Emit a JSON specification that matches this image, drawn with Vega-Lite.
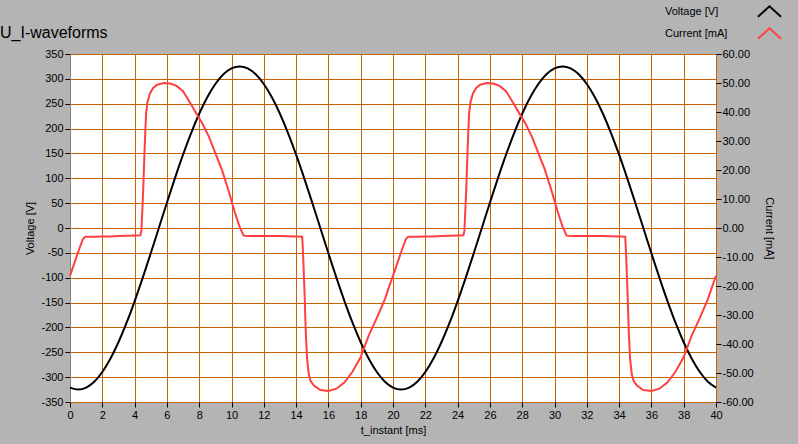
{
  "$schema": "https://vega.github.io/schema/vega-lite/v6.json",
  "width": 646,
  "height": 348,
  "autosize": "none",
  "padding": {"left": 70, "top": 54, "right": 82, "bottom": 42},
  "background": "#b4b4b4",
  "title": {
    "text": "U_I-waveforms",
    "anchor": "start",
    "frame": "group",
    "dx": -70,
    "dy": 65,
    "offset": 10,
    "baseline": "alphabetic",
    "fontSize": 16,
    "fontWeight": "normal",
    "font": "Liberation Sans",
    "color": "#000000"
  },
  "datasets": {
    "voltage": [
      {"t": 0, "v": -321.0}, {"t": 0.5, "v": -325}, {"t": 1, "v": -321.0}, {"t": 1.5, "v": -309.1},
      {"t": 2, "v": -289.6}, {"t": 2.5, "v": -262.9}, {"t": 3, "v": -229.8}, {"t": 3.5, "v": -191.0},
      {"t": 4, "v": -147.5}, {"t": 4.5, "v": -100.4}, {"t": 5, "v": -50.8}, {"t": 5.5, "v": 0},
      {"t": 6, "v": 50.8}, {"t": 6.5, "v": 100.4}, {"t": 7, "v": 147.5}, {"t": 7.5, "v": 191.0},
      {"t": 8, "v": 229.8}, {"t": 8.5, "v": 262.9}, {"t": 9, "v": 289.6}, {"t": 9.5, "v": 309.1},
      {"t": 10, "v": 321.0}, {"t": 10.5, "v": 325}, {"t": 11, "v": 321.0}, {"t": 11.5, "v": 309.1},
      {"t": 12, "v": 289.6}, {"t": 12.5, "v": 262.9}, {"t": 13, "v": 229.8}, {"t": 13.5, "v": 191.0},
      {"t": 14, "v": 147.5}, {"t": 14.5, "v": 100.4}, {"t": 15, "v": 50.8}, {"t": 15.5, "v": 0},
      {"t": 16, "v": -50.8}, {"t": 16.5, "v": -100.4}, {"t": 17, "v": -147.5}, {"t": 17.5, "v": -191.0},
      {"t": 18, "v": -229.8}, {"t": 18.5, "v": -262.9}, {"t": 19, "v": -289.6}, {"t": 19.5, "v": -309.1},
      {"t": 20, "v": -321.0}, {"t": 20.5, "v": -325}, {"t": 21, "v": -321.0}, {"t": 21.5, "v": -309.1},
      {"t": 22, "v": -289.6}, {"t": 22.5, "v": -262.9}, {"t": 23, "v": -229.8}, {"t": 23.5, "v": -191.0},
      {"t": 24, "v": -147.5}, {"t": 24.5, "v": -100.4}, {"t": 25, "v": -50.8}, {"t": 25.5, "v": 0},
      {"t": 26, "v": 50.8}, {"t": 26.5, "v": 100.4}, {"t": 27, "v": 147.5}, {"t": 27.5, "v": 191.0},
      {"t": 28, "v": 229.8}, {"t": 28.5, "v": 262.9}, {"t": 29, "v": 289.6}, {"t": 29.5, "v": 309.1},
      {"t": 30, "v": 321.0}, {"t": 30.5, "v": 325}, {"t": 31, "v": 321.0}, {"t": 31.5, "v": 309.1},
      {"t": 32, "v": 289.6}, {"t": 32.5, "v": 262.9}, {"t": 33, "v": 229.8}, {"t": 33.5, "v": 191.0},
      {"t": 34, "v": 147.5}, {"t": 34.5, "v": 100.4}, {"t": 35, "v": 50.8}, {"t": 35.5, "v": 0},
      {"t": 36, "v": -50.8}, {"t": 36.5, "v": -100.4}, {"t": 37, "v": -147.5}, {"t": 37.5, "v": -191.0},
      {"t": 38, "v": -229.8}, {"t": 38.5, "v": -262.9}, {"t": 39, "v": -289.6}, {"t": 39.5, "v": -309.1},
      {"t": 40, "v": -321.0}
    ],
    "current": [
      {"t": 0, "i": -16.5}, {"t": 0.3, "i": -11.6}, {"t": 0.6, "i": -6.8}, {"t": 0.8, "i": -3.8},
      {"t": 0.95, "i": -3.0}, {"t": 1.5, "i": -3.0}, {"t": 2.0, "i": -2.9}, {"t": 2.5, "i": -2.9},
      {"t": 3.0, "i": -2.8}, {"t": 3.5, "i": -2.7}, {"t": 4.0, "i": -2.6}, {"t": 4.36, "i": -2.5},
      {"t": 4.42, "i": -1.0}, {"t": 4.47, "i": 5}, {"t": 4.54, "i": 14}, {"t": 4.6, "i": 24},
      {"t": 4.66, "i": 33}, {"t": 4.72, "i": 40}, {"t": 4.8, "i": 43.5}, {"t": 4.95, "i": 46.4},
      {"t": 5.15, "i": 48.3}, {"t": 5.4, "i": 49.4}, {"t": 5.8, "i": 50.0}, {"t": 6.2, "i": 49.8},
      {"t": 6.6, "i": 49.0}, {"t": 7.0, "i": 47.2}, {"t": 7.4, "i": 43.5}, {"t": 7.8, "i": 39.7},
      {"t": 8.2, "i": 36.0}, {"t": 8.6, "i": 31.5}, {"t": 9.0, "i": 25.8}, {"t": 9.4, "i": 20.2},
      {"t": 9.8, "i": 13.2}, {"t": 10.2, "i": 5.5}, {"t": 10.5, "i": 0.5}, {"t": 10.75, "i": -2.6},
      {"t": 11.0, "i": -2.8}, {"t": 12.0, "i": -2.8}, {"t": 13.0, "i": -2.8}, {"t": 14.0, "i": -2.9},
      {"t": 14.38, "i": -3.0}, {"t": 14.44, "i": -10}, {"t": 14.52, "i": -22}, {"t": 14.6, "i": -36},
      {"t": 14.68, "i": -45}, {"t": 14.78, "i": -50.3}, {"t": 14.9, "i": -52.8}, {"t": 15.1, "i": -54.3},
      {"t": 15.5, "i": -55.9}, {"t": 16.0, "i": -56.2}, {"t": 16.5, "i": -55.4}, {"t": 17.0, "i": -53.2},
      {"t": 17.5, "i": -49.5}, {"t": 18.0, "i": -44.5}, {"t": 18.5, "i": -37.0}, {"t": 19.0, "i": -31.0},
      {"t": 19.5, "i": -24.5}, {"t": 19.9, "i": -18.0},
      {"t": 20, "i": -16.5}, {"t": 20.3, "i": -11.6}, {"t": 20.6, "i": -6.8}, {"t": 20.8, "i": -3.8},
      {"t": 20.95, "i": -3.0}, {"t": 21.5, "i": -3.0}, {"t": 22.0, "i": -2.9}, {"t": 22.5, "i": -2.9},
      {"t": 23.0, "i": -2.8}, {"t": 23.5, "i": -2.7}, {"t": 24.0, "i": -2.6}, {"t": 24.36, "i": -2.5},
      {"t": 24.42, "i": -1.0}, {"t": 24.47, "i": 5}, {"t": 24.54, "i": 14}, {"t": 24.6, "i": 24},
      {"t": 24.66, "i": 33}, {"t": 24.72, "i": 40}, {"t": 24.8, "i": 43.5}, {"t": 24.95, "i": 46.4},
      {"t": 25.15, "i": 48.3}, {"t": 25.4, "i": 49.4}, {"t": 25.8, "i": 50.0}, {"t": 26.2, "i": 49.8},
      {"t": 26.6, "i": 49.0}, {"t": 27.0, "i": 47.2}, {"t": 27.4, "i": 43.5}, {"t": 27.8, "i": 39.7},
      {"t": 28.2, "i": 36.0}, {"t": 28.6, "i": 31.5}, {"t": 29.0, "i": 25.8}, {"t": 29.4, "i": 20.2},
      {"t": 29.8, "i": 13.2}, {"t": 30.2, "i": 5.5}, {"t": 30.5, "i": 0.5}, {"t": 30.75, "i": -2.6},
      {"t": 31.0, "i": -2.8}, {"t": 32.0, "i": -2.8}, {"t": 33.0, "i": -2.8}, {"t": 34.0, "i": -2.9},
      {"t": 34.38, "i": -3.0}, {"t": 34.44, "i": -10}, {"t": 34.52, "i": -22}, {"t": 34.6, "i": -36},
      {"t": 34.68, "i": -45}, {"t": 34.78, "i": -50.3}, {"t": 34.9, "i": -52.8}, {"t": 35.1, "i": -54.3},
      {"t": 35.5, "i": -55.9}, {"t": 36.0, "i": -56.2}, {"t": 36.5, "i": -55.4}, {"t": 37.0, "i": -53.2},
      {"t": 37.5, "i": -49.5}, {"t": 38.0, "i": -44.5}, {"t": 38.5, "i": -37.0}, {"t": 39.0, "i": -31.0},
      {"t": 39.5, "i": -24.5}, {"t": 39.9, "i": -18.0}, {"t": 40, "i": -16.5}
    ]
  },
  "encoding": {
    "x": {
      "field": "t", "type": "quantitative",
      "scale": {"domain": [0, 40], "nice": false, "zero": false},
      "axis": {
        "values": [0, 2, 4, 6, 8, 10, 12, 14, 16, 18, 20, 22, 24, 26, 28, 30, 32, 34, 36, 38, 40],
        "title": "t_instant [ms]", "titlePadding": 4, "labelFlush": false, "labelOverlap": false, "domain": false
      }
    }
  },
  "layer": [
    {
      "data": {"name": "voltage"},
      "mark": {"type": "line", "strokeWidth": 2, "interpolate": "monotone"},
      "encoding": {
        "y": {
          "field": "v", "type": "quantitative",
          "scale": {"domain": [-350, 350], "nice": false, "zero": false},
          "axis": {
            "orient": "left",
            "values": [-350, -300, -250, -200, -150, -100, -50, 0, 50, 100, 150, 200, 250, 300, 350],
            "labelExpr": "replace(format(datum.value, 'd'), '\u2212', '-')",
            "labelOverlap": false,
            "title": "Voltage [V]", "titlePadding": 5
          }
        },
        "color": {
          "datum": "Voltage [V]",
          "type": "nominal",
          "scale": {"domain": ["Voltage [V]", "Current [mA]"], "range": ["#000000", "#ff4040"]},
          "legend": {
            "orient": "none", "legendX": 687, "legendY": -55, "title": null,
            "symbolType": "M-1,0.45L0,-0.45L1,0.45", "symbolSize": 529, "symbolStrokeWidth": 2,
            "symbolFillColor": "transparent", "rowPadding": -3,
            "labelAlign": "left", "labelOffset": -117, "labelFontSize": 11, "labelColor": "#000000",
            "labelFont": "Liberation Sans", "padding": 0
          }
        }
      }
    },
    {
      "data": {"name": "current"},
      "mark": {"type": "line", "strokeWidth": 2, "interpolate": "linear"},
      "encoding": {
        "y": {
          "field": "i", "type": "quantitative",
          "scale": {"domain": [-60, 60], "nice": false, "zero": false},
          "axis": {
            "orient": "right",
            "values": [-60, -50, -40, -30, -20, -10, 0, 10, 20, 30, 40, 50, 60],
            "labelExpr": "replace(format(datum.value, '.2f'), '\u2212', '-')",
            "labelOverlap": false,
            "title": "Current [mA]", "titlePadding": 10, "domain": false, "labelPadding": 1
          }
        },
        "color": {"datum": "Current [mA]", "type": "nominal"}
      }
    }
  ],
  "resolve": {"scale": {"y": "independent"}, "axis": {"y": "independent"}},
  "config": {
    "view": {"fill": "#ffffff", "stroke": null},
    "font": "Liberation Sans",
    "axis": {
      "grid": true,
      "gridColor": "#c86400",
      "gridOpacity": 1,
      "gridWidth": 1,
      "tickColor": "#000000",
      "tickSize": 5,
      "labelColor": "#000000",
      "labelFontSize": 11,
      "labelFont": "Liberation Sans",
      "titleFont": "Liberation Sans",
      "titleFontSize": 11,
      "titleFontWeight": "normal",
      "titleColor": "#000000",
      "domainColor": "#808080",
      "labelPadding": 2
    }
  }
}
